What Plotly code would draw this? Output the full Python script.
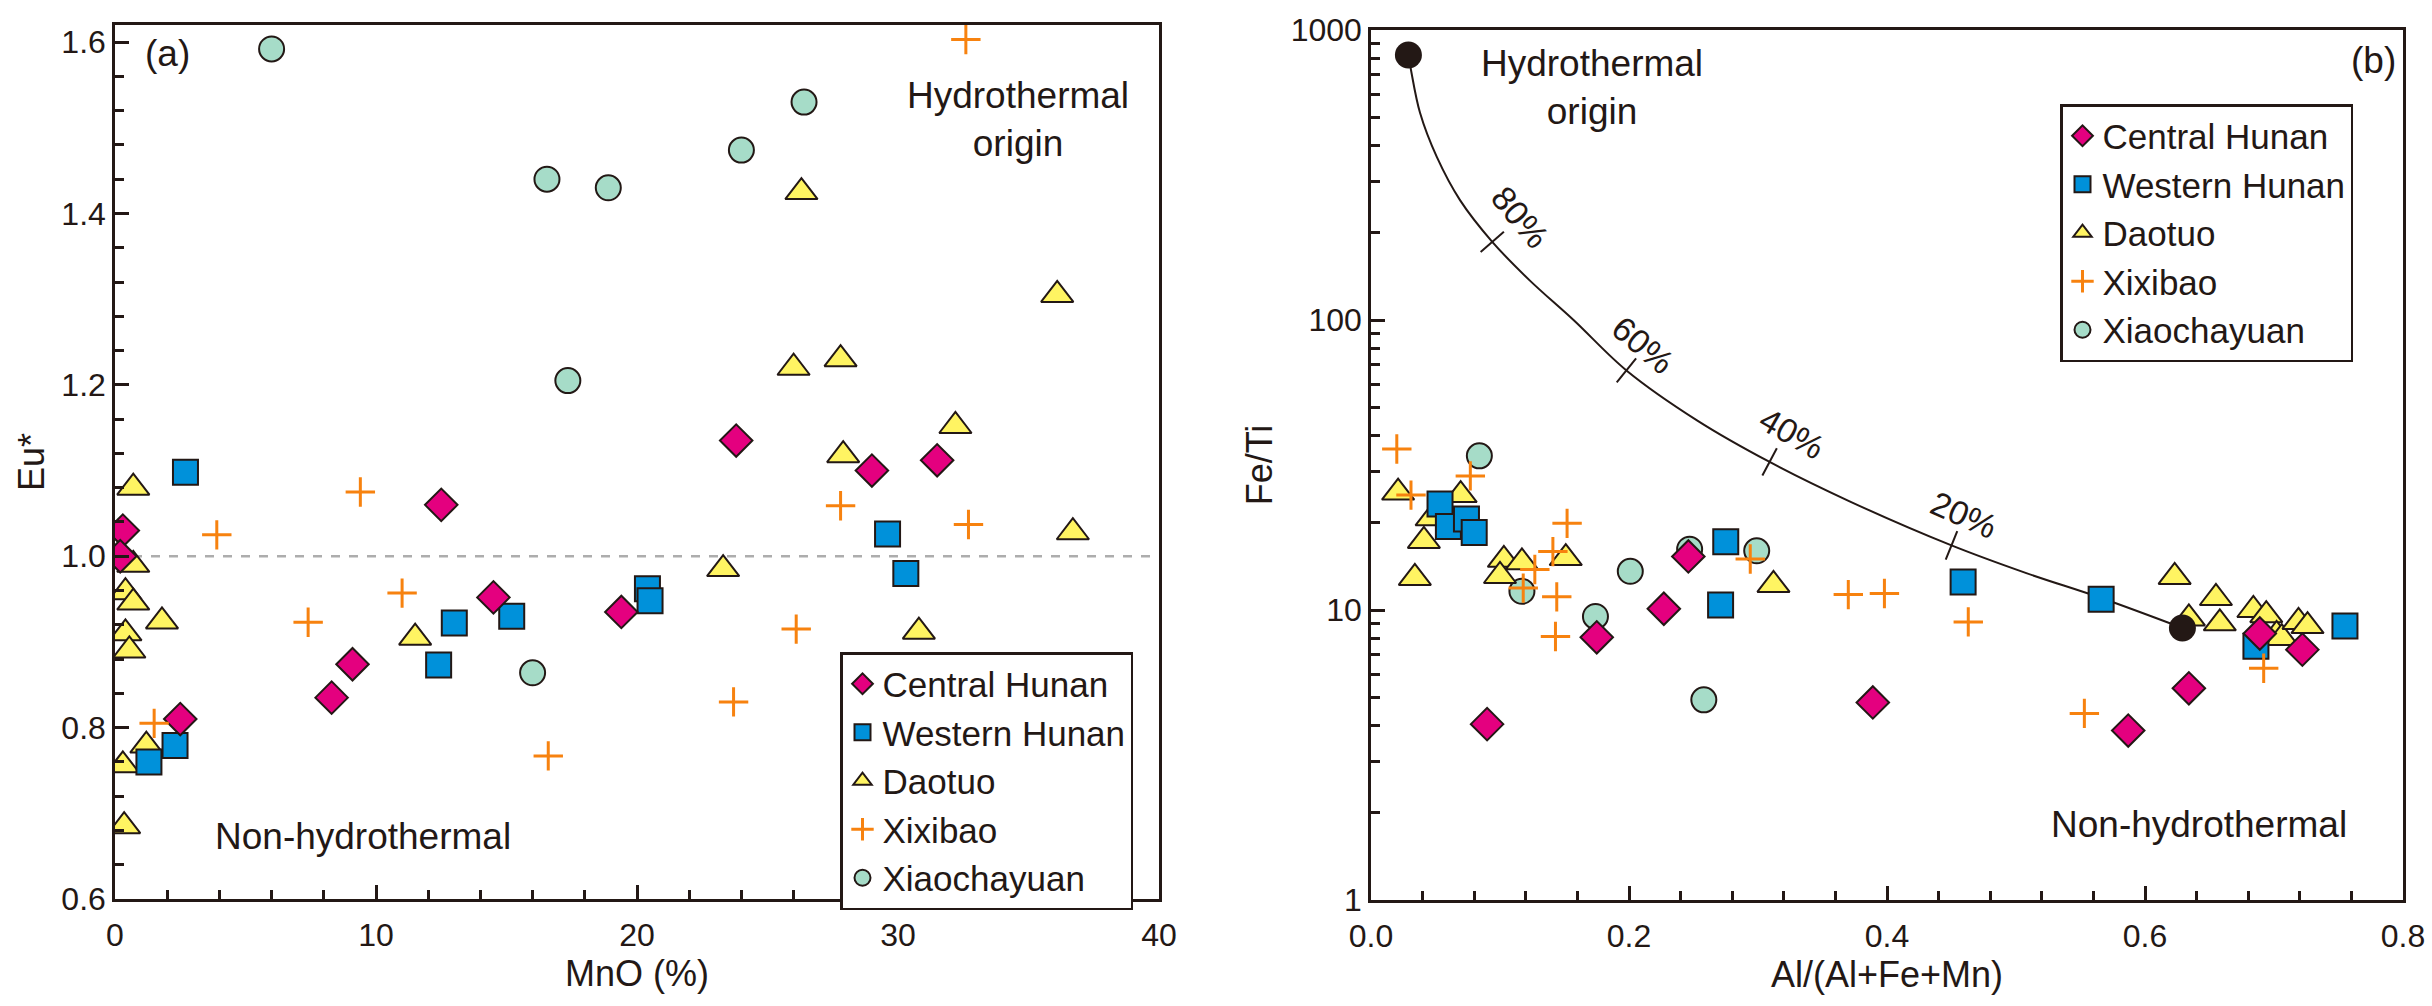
import math
import plotly.graph_objects as go

# ---------------- data: panel (a) MnO (%) vs Eu* ----------------
ch_mno = [0.3, 0.2, 2.5, 8.3, 9.1, 12.5, 14.5, 19.4, 23.8, 29.0, 31.5]
ch_eu = [1.03, 1.0, 0.81, 0.835, 0.874, 1.06, 0.952, 0.935, 1.135, 1.10, 1.112]

wh_mno = [2.7, 1.3, 2.3, 12.4, 13.0, 15.2, 20.4, 20.5, 29.6, 30.3]
wh_eu = [1.098, 0.76, 0.779, 0.873, 0.922, 0.93, 0.962, 0.948, 1.026, 0.98]

dt_mno = [0.7, 0.7, 0.4, 0.7, 1.8, 0.4, 0.55, 1.2, 0.3, 0.35,
          11.5, 26.3, 26.0, 27.8, 27.9, 23.3, 30.8, 36.7, 36.1, 32.2]
dt_eu = [1.08, 0.99, 0.958, 0.946, 0.924, 0.91, 0.89, 0.779, 0.756, 0.685,
         0.905, 1.425, 1.22, 1.23, 1.118, 0.985, 0.912, 1.028, 1.305, 1.152]

xb_mno = [9.4, 3.9, 7.4, 11.0, 1.5, 27.8, 32.7, 26.1, 23.7, 16.6, 32.6]
xb_eu = [1.075, 1.025, 0.923, 0.957, 0.805, 1.059, 1.037, 0.915, 0.83, 0.767, 1.603]

xc_mno = [6.0, 26.4, 24.0, 16.55, 18.9, 17.35, 16.0]
xc_eu = [1.592, 1.53, 1.474, 1.44, 1.43, 1.205, 0.864]

eu_ref = 1.0
mno_span = [0, 40]

# ---------------- data: panel (b) Al/(Al+Fe+Mn) vs Fe/Ti ----------------
ch_al = [0.090, 0.175, 0.227, 0.246, 0.389, 0.587, 0.634, 0.689, 0.722]
ch_feti = [4.04, 8.05, 10.1, 15.3, 4.8, 3.84, 5.37, 8.3, 7.3]

wh_al = [0.0535, 0.060, 0.074, 0.080, 0.275, 0.271, 0.459, 0.566, 0.686, 0.755]
wh_feti = [23.2, 19.4, 20.6, 18.5, 17.2, 10.4, 12.5, 10.9, 7.5, 8.8]

dt_al = [0.021, 0.0695, 0.047, 0.041, 0.034, 0.103, 0.100, 0.117, 0.151, 0.312,
         0.623, 0.655, 0.634, 0.658, 0.684, 0.694, 0.702, 0.706, 0.719, 0.726]
dt_feti = [25.4, 24.9, 20.7, 17.3, 12.9, 14.9, 13.1, 14.6, 15.1, 12.2,
           13.0, 11.0, 9.35, 9.0, 10.0, 9.6, 8.2, 8.0, 9.1, 8.8]

xb_al = [0.020, 0.031, 0.077, 0.127, 0.118, 0.141, 0.152, 0.144, 0.143, 0.294,
         0.370, 0.398, 0.463, 0.553, 0.692]
xb_feti = [35.9, 24.9, 29.0, 13.8, 11.9, 15.9, 19.9, 11.1, 8.1, 15.0,
           11.3, 11.4, 9.1, 4.4, 6.3]

xc_al = [0.084, 0.117, 0.174, 0.201, 0.247, 0.258, 0.299]
xc_feti = [34.0, 11.6, 9.5, 13.6, 16.2, 4.9, 16.0]

# mixing curve between hydrothermal and non-hydrothermal end members
mix_al = [0.029, 0.031, 0.038, 0.051, 0.069, 0.094, 0.123, 0.157,
          0.198, 0.253, 0.309, 0.371, 0.450, 0.508, 0.566, 0.629]
mix_feti = [820, 728, 518, 365, 259, 186, 137, 100,
            67, 45, 32.4, 23.7, 16.7, 13.4, 11.0, 8.67]
end_al = [0.029, 0.629]
end_feti = [820, 8.67]

tick_al = [0.094, 0.198, 0.309, 0.450]
tick_feti = [186, 67, 32.4, 16.7]
tick_angle = [49, 39, 28, 22]
pct_text = ["80%", "60%", "40%", "20%"]
pct_al = [0.1155, 0.211, 0.326, 0.460]
pct_feti = [226, 82, 40.7, 21.3]
pct_angle = [50, 40, 30, 24]

# axis tick values
mno_ticks = [0, 10, 20, 30, 40]
eu_ticks = [0.6, 0.8, 1.0, 1.2, 1.4, 1.6]
al_ticks = [0, 0.2, 0.4, 0.6, 0.8]
feti_ticks = [1, 10, 100, 1000]
feti_labels = ["1", "10", "100", "1000"]
feti_minor = [2, 3, 4, 5, 6, 7, 8, 9, 20, 30, 40, 50, 60, 70, 80, 90,
              200, 300, 400, 500, 600, 700, 800, 900]

# ---------------- styles ----------------
FONT = "Liberation Sans, Arial, sans-serif"
INK = "#231815"
groups = [
    # name, symbol, fill, size
    ("Xiaochayuan", "circle", "#A6DCC8", 25),
    ("Daotuo", "triangle-up", "#FFF462", 28),
    ("Western Hunan", "square", "#0091DA", 25),
    ("Central Hunan", "diamond", "#E4007F", 25),
    ("Xixibao", "cross-thin", "#F7820F", 21),
]
rank = {"Central Hunan": 1, "Western Hunan": 2, "Daotuo": 3, "Xixibao": 4, "Xiaochayuan": 5}
data_a = {
    "Central Hunan": (ch_mno, ch_eu),
    "Western Hunan": (wh_mno, wh_eu),
    "Daotuo": (dt_mno, dt_eu),
    "Xixibao": (xb_mno, xb_eu),
    "Xiaochayuan": (xc_mno, xc_eu),
}
data_b = {
    "Central Hunan": (ch_al, ch_feti),
    "Western Hunan": (wh_al, wh_feti),
    "Daotuo": (dt_al, dt_feti),
    "Xixibao": (xb_al, xb_feti),
    "Xiaochayuan": (xc_al, xc_feti),
}


def marker_style(symbol, fill, size):
    if symbol == "cross-thin":
        return dict(symbol=symbol, size=size, color=fill, line=dict(color=fill, width=3))
    return dict(symbol=symbol, size=size, color=fill, line=dict(color=INK, width=2))


fig = go.Figure()

# reference line Eu* = 1
fig.add_trace(go.Scatter(x=mno_span, y=[eu_ref, eu_ref], mode="lines",
                         line=dict(color="#ADADAD", width=2.5, dash="dash"),
                         showlegend=False, hoverinfo="skip", xaxis="x", yaxis="y"))

# mixing curve (b)
fig.add_trace(go.Scatter(x=mix_al, y=mix_feti, mode="lines",
                         line=dict(color=INK, width=2, shape="spline"),
                         showlegend=False, hoverinfo="skip", xaxis="x2", yaxis="y2"))
fig.add_trace(go.Scatter(x=tick_al, y=tick_feti, mode="markers",
                         marker=dict(symbol="line-ns", size=22, angle=tick_angle,
                                     line=dict(color=INK, width=2)),
                         showlegend=False, hoverinfo="skip", xaxis="x2", yaxis="y2"))

for name, symbol, fill, size in groups:
    xa, ya = data_a[name]
    fig.add_trace(go.Scatter(x=xa, y=ya, mode="markers", name=name,
                             marker=marker_style(symbol, fill, size),
                             legend="legend", legendrank=rank[name],
                             xaxis="x", yaxis="y"))
    xb, yb = data_b[name]
    fig.add_trace(go.Scatter(x=xb, y=yb, mode="markers", name=name,
                             marker=marker_style(symbol, fill, size),
                             legend="legend2", legendrank=rank[name],
                             xaxis="x2", yaxis="y2"))

# end members
fig.add_trace(go.Scatter(x=end_al, y=end_feti, mode="markers",
                         marker=dict(symbol="circle", size=27, color=INK, line=dict(width=0)),
                         showlegend=False, hoverinfo="skip", xaxis="x2", yaxis="y2"))

W, H = 2432, 1006

axis_common = dict(
    showline=True, linecolor=INK, linewidth=2.5, mirror=True,
    ticks="inside", ticklen=14, tickwidth=2.5, tickcolor=INK,
    showgrid=False, zeroline=False,
    tickfont=dict(family=FONT, size=32, color=INK),
    title_font=dict(family=FONT, size=36, color=INK),
)
minor_common = dict(ticks="inside", ticklen=9, tickwidth=2.5, tickcolor=INK, showgrid=False)

fig.update_layout(
    width=W, height=H,
    margin=dict(l=0, r=0, t=0, b=0, autoexpand=False),
    paper_bgcolor="white", plot_bgcolor="white",
    font=dict(family=FONT, color=INK),
    xaxis=dict(domain=[115 / W, 1159 / W], range=[0, 40], tickvals=mno_ticks,
               minor=dict(dtick=2, tick0=0, **minor_common), ticklabelstandoff=6,
               title=dict(text="MnO (%)", standoff=4), anchor="y", **axis_common),
    yaxis=dict(domain=[1 - 899 / H, 1 - 25 / H], range=[0.6, 1.62], tickvals=eu_ticks,
               tickformat=".1f", minor=dict(dtick=0.04, tick0=0.6, **minor_common),
               title=dict(text="Eu*", standoff=6), anchor="x", **axis_common),
    xaxis2=dict(domain=[1371 / W, 2403 / W], range=[0, 0.8], tickvals=al_ticks,
                tickformat=".1f", minor=dict(dtick=0.04, tick0=0, **minor_common),
                ticklabelstandoff=6,
                title=dict(text="Al/(Al+Fe+Mn)", standoff=4), anchor="y2", **axis_common),
    yaxis2=dict(domain=[1 - 900 / H, 1 - 30 / H], type="log", range=[0, 3],
                tickvals=feti_ticks, ticktext=feti_labels,
                minor=dict(tickvals=feti_minor, **minor_common),
                title=dict(text="Fe/Ti", standoff=8), anchor="x2", **axis_common),
    legend=dict(x=840 / W, y=1 - 652 / H, xanchor="left", yanchor="top",
                bgcolor="white", bordercolor=INK, borderwidth=2.5,
                font=dict(family=FONT, size=35, color=INK), tracegroupgap=0, itemwidth=30),
    legend2=dict(x=2060 / W, y=1 - 104 / H, xanchor="left", yanchor="top",
                 bgcolor="white", bordercolor=INK, borderwidth=2.5,
                 font=dict(family=FONT, size=35, color=INK), tracegroupgap=0, itemwidth=30),
)

text_font = dict(family=FONT, size=37, color=INK)
ann = [
    dict(x=2.0, y=1.587, xref="x", yref="y", text="(a)", xanchor="center"),
    dict(x=34.6, y=1.51, xref="x", yref="y", text="Hydrothermal<br>origin"),
    dict(x=9.5, y=0.673, xref="x", yref="y", text="Non-hydrothermal"),
    dict(x=0.777, y=math.log10(788), xref="x2", yref="y2", text="(b)"),
    dict(x=0.171, y=math.log10(636), xref="x2", yref="y2", text="Hydrothermal<br>origin"),
    dict(x=0.642, y=math.log10(1.82), xref="x2", yref="y2", text="Non-hydrothermal"),
]
for a in ann:
    fig.add_annotation(showarrow=False, font=text_font, **a)

for t, xv, yv, ang in zip(pct_text, pct_al, pct_feti, pct_angle):
    fig.add_annotation(x=xv, y=math.log10(yv), xref="x2", yref="y2", text=t,
                       textangle=ang, showarrow=False,
                       font=dict(family=FONT, size=34, color=INK))

fig.write_html("out.html", config={"displayModeBar": False},
               post_script="document.body.style.margin='0px';")
